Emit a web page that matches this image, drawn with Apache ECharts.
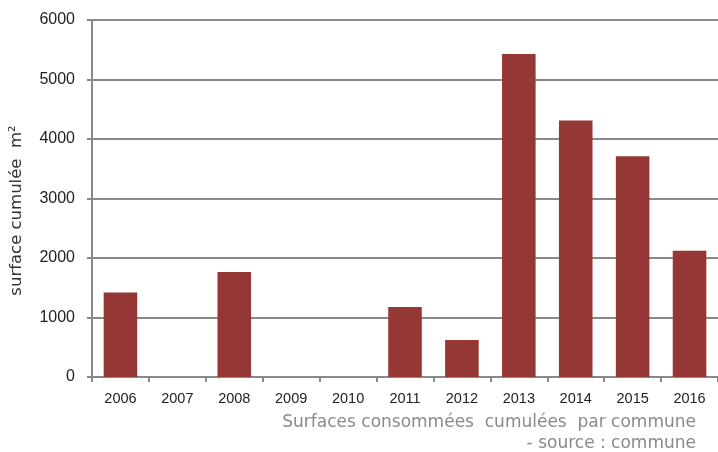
<html>
<head>
    <meta charset="utf-8">
    <title>surface cumulée</title>
    <script src="https://cdn.jsdelivr.net/npm/echarts@6/dist/echarts.min.js"></script>
</head>
<body style="margin:0">
    <div id="main" style="width:718px;height:452px;background-color:#fff"></div>
    <script type="text/javascript">
        // données
        var annees = ['2006','2007','2008','2009','2010','2011','2012','2013','2014','2015','2016'];
        var surfaces = [1420, 0, 1765, 0, 0, 1175, 620, 5430, 4310, 3710, 2120];
        var yTicks = [0, 1000, 2000, 3000, 4000, 5000, 6000];

        var police = '"DejaVu Sans", sans-serif';
        var chiffres = '"Liberation Sans", Arial, sans-serif';
        var myChart = echarts.init(document.getElementById('main'));
        var option = {
            animation: false,
            textStyle: {fontFamily: police},
            grid: {left: 91.5, right: -4.6, top: 20, bottom: 75},
            xAxis: {
                type: 'category',
                data: annees,
                axisLine: {lineStyle: {color: '#898989', width: 2}},
                axisTick: {show: true, length: 5, lineStyle: {color: '#898989', width: 2}},
                axisLabel: {color: '#222', fontSize: 14.5, fontFamily: chiffres, margin: 14}
            },
            yAxis: {
                type: 'value',
                min: yTicks[0],
                max: yTicks[yTicks.length - 1],
                interval: 1000,
                name: 'surface cumulée  m²',
                nameLocation: 'middle',
                nameGap: 67,
                nameTextStyle: {color: '#333', fontSize: 16.5, padding: [0, 24, 0, 0]},
                axisLine: {show: true, lineStyle: {color: '#898989', width: 2}},
                axisTick: {show: true, length: 5, lineStyle: {color: '#898989', width: 2}},
                axisLabel: {color: '#222', fontSize: 16, fontFamily: chiffres, margin: 17, formatter: function (v) { return String(v); }},
                splitLine: {lineStyle: {color: '#898989', width: 2}}
            },
            graphic: [
                {type: 'text', right: 22, top: 414, style: {text: 'Surfaces consommées  cumulées  par commune', fill: '#8a8a8a', font: '17px ' + police}},
                {type: 'text', right: 22, top: 435, style: {text: '- source : commune', fill: '#8a8a8a', font: '17px ' + police}}
            ],
            series: [{
                type: 'bar',
                data: surfaces,
                barCategoryGap: '41%',
                itemStyle: {color: '#953735'}
            }]
        };
        myChart.setOption(option);
    </script>
</body>
</html>
